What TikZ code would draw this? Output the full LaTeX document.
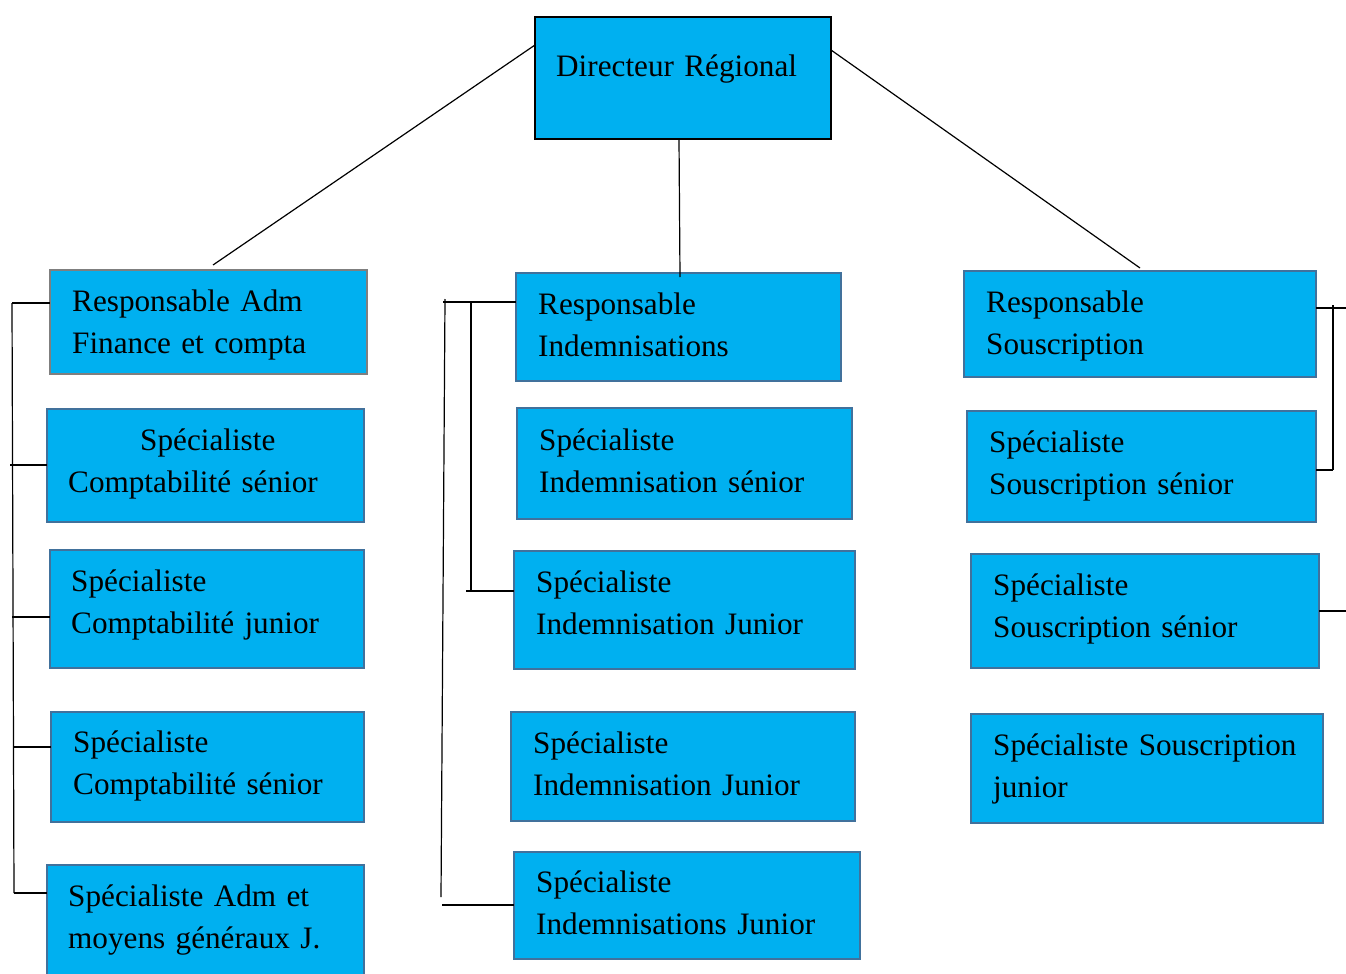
\documentclass[tikz,border=0pt]{standalone}
\usepackage{fontspec}
\setmainfont{Liberation Serif}
\definecolor{boxfill}{HTML}{00B0F0}
\definecolor{boxline}{HTML}{41719C}
\definecolor{greyline}{HTML}{7F7F7F}
\begin{document}
\begin{tikzpicture}[x=1pt,y=-1pt,
  box/.style={draw=boxline, line width=2pt, fill=boxfill, inner sep=0pt, outer sep=0pt, anchor=north west},
  topbox/.style={box, draw=black, line width=2.5pt},
  admbox/.style={box, draw=greyline, line width=2.5pt},
  txt/.style={font=\fontsize{31.2}{42}\selectfont, anchor=base west, align=left, text width=345pt, inner sep=0pt},
  link/.style={draw=black, line width=1.2pt}]
\path[use as bounding box] (0,0) rectangle (1346,974);

% boxes
\node[topbox, minimum width=296pt, minimum height=122pt] (n1) at (535,17) {};
\node[admbox, minimum width=317pt, minimum height=104pt] (n2) at (50,270) {};
\node[box, minimum width=317pt, minimum height=113pt] (n3) at (47,409) {};
\node[box, minimum width=314pt, minimum height=118pt] (n4) at (50,550) {};
\node[box, minimum width=313pt, minimum height=110pt] (n5) at (51,712) {};
\node[box, minimum width=317pt, minimum height=125pt] (n6) at (47,865) {};
\node[box, minimum width=325pt, minimum height=108pt] (n7) at (516,273) {};
\node[box, minimum width=335pt, minimum height=111pt] (n8) at (517,408) {};
\node[box, minimum width=341pt, minimum height=118pt] (n9) at (514,551) {};
\node[box, minimum width=344pt, minimum height=109pt] (n10) at (511,712) {};
\node[box, minimum width=346pt, minimum height=107pt] (n11) at (514,852) {};
\node[box, minimum width=352pt, minimum height=106pt] (n12) at (964,271) {};
\node[box, minimum width=349pt, minimum height=111pt] (n13) at (967,411) {};
\node[box, minimum width=348pt, minimum height=114pt] (n14) at (971,554) {};
\node[box, minimum width=352pt, minimum height=109pt] (n15) at (971,714) {};

% texts
\node[txt] (t1) at (556,77) {Directeur Régional};
\node[txt] (t2) at (72,311) {Responsable Adm\\Finance et compta};
\node[txt] (t3) at (68,450) {\hspace*{72pt}Spécialiste\\Comptabilité sénior};
\node[txt] (t4) at (71,591) {Spécialiste\\Comptabilité junior};
\node[txt] (t5) at (73,752) {Spécialiste\\Comptabilité sénior};
\node[txt] (t6) at (68,906) {Spécialiste Adm et\\moyens généraux J.};
\node[txt] (t7) at (538,314) {Responsable\\Indemnisations};
\node[txt] (t8) at (539,450) {Spécialiste\\Indemnisation sénior};
\node[txt] (t9) at (536,592) {Spécialiste\\Indemnisation Junior};
\node[txt] (t10) at (533,753) {Spécialiste\\Indemnisation Junior};
\node[txt] (t11) at (536,892) {Spécialiste\\Indemnisations Junior};
\node[txt] (t12) at (986,312) {Responsable\\Souscription};
\node[txt] (t13) at (989,452) {Spécialiste\\Souscription sénior};
\node[txt] (t14) at (993,595) {Spécialiste\\Souscription sénior};
\node[txt] (t15) at (993,755) {Spécialiste Souscription\\junior};

% free ends of the connectors
\coordinate (c2) at (213,265);
\coordinate (c7) at (680,277);
\coordinate (c12) at (1140,268);
\coordinate (lt) at (12,303);
\coordinate (lb) at (14,893);
\coordinate (mt) at (443,302);
\coordinate (mv) at (445,299);
\coordinate (mb) at (441,897);
\coordinate (mf) at (442,905);
\coordinate (mi) at (471,302);
\coordinate (mj) at (466,591);
\coordinate (rt) at (1346,308);
\coordinate (rv) at (1333,305);
\coordinate (rb) at (1333,470);
\coordinate (rs) at (1346,611);

% director to the three heads
\draw[link] (n1.west |- 0,45) -- (c2);
\draw[link] (n1.south -| 679,0) -- (c7);
\draw[link] (n1.east |- 0,50) -- (c12);

% left column bracket
\draw[link] (lt) -- (lb);
\draw[link] (lt) -- (lt -| n2.west);
\draw[link] (10,465) -- (n3.west |- 0,465);
\draw[link] (12,617) -- (n4.west |- 0,617);
\draw[link] (14,747) -- (n5.west |- 0,747);
\draw[link] (lb) -- (lb -| n6.west);

% middle column bracket
\draw[link] (mt) -- (mt -| n7.west);
\draw[link] (mv) -- (mb);
\draw[link] (mf) -- (mf -| n11.west);
\draw[link] (mi) -- (mi |- mj);
\draw[link] (mj) -- (mj -| n9.west);

% right column bracket
\draw[link] (n12.east |- rt) -- (rt);
\draw[link] (rv) -- (rb);
\draw[link] (rb) -- (rb -| n13.east);
\draw[link] (n14.east |- rs) -- (rs);
\end{tikzpicture}
\end{document}
